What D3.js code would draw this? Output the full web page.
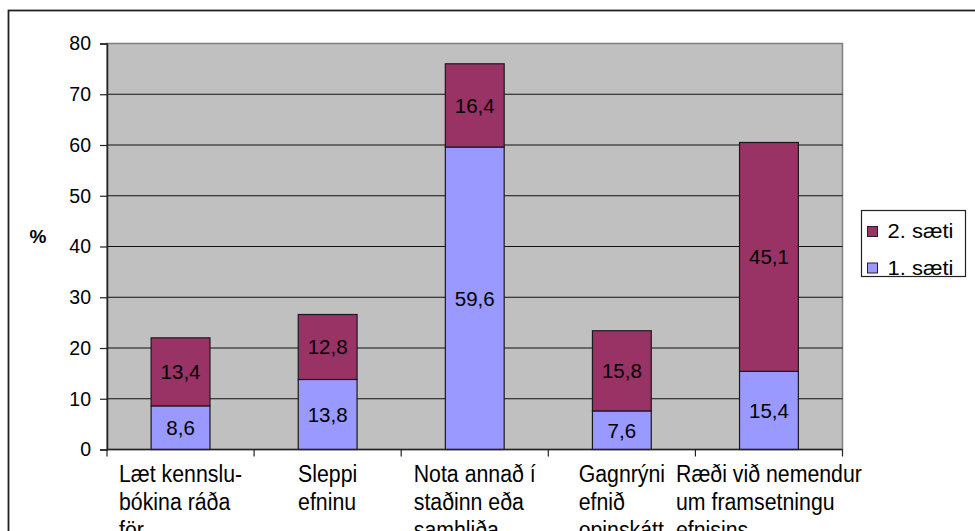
<!DOCTYPE html>
<html>
<head>
<meta charset="utf-8">
<script src="https://cdn.jsdelivr.net/npm/d3@7"></script>
<style>
  body { margin: 0; background: #fff; }
  svg { display: block; font-family: "Liberation Sans", Arial, sans-serif; }
</style>
</head>
<body>
<div id="chart"></div>
<script>
// categories (each wrapped into lines as in the original)
const categories = [
  ["Læt kennslu-", "bókina ráða", "för"],
  ["Sleppi", "efninu"],
  ["Nota annað í", "staðinn eða", "samhliða"],
  ["Gagnrýni", "efnið", "opinskátt"],
  ["Ræði við nemendur", "um framsetningu", "efnisins"]
]
const first = [8.6, 13.8, 59.6, 7.6, 15.4]    // 1. sæti
const second = [13.4, 12.8, 16.4, 15.8, 45.1] // 2. sæti
const seriesNames = ["1. sæti", "2. sæti"]
const yTicks = [0, 10, 20, 30, 40, 50, 60, 70, 80]

const W = 975, H = 531
const plot = { left: 107, right: 842.5, top: 43.5, bottom: 449.5 }
const colors = { "1. sæti": "#9999ff", "2. sæti": "#993366" }

const svg = d3.select("#chart").append("svg")
  .attr("width", W)
  .attr("height", H)

// outer chart border
svg.append("rect")
  .attr("x", 8.5).attr("y", 10.5)
  .attr("width", W + 20).attr("height", H + 20)
  .attr("fill", "#fff")
  .attr("stroke", "#222")
  .attr("stroke-width", 1.8)

const keys = categories.map((c, i) => "c" + i)

const x = d3.scaleBand()
  .domain(keys)
  .range([plot.left, plot.right])
  .padding(0)

const y = d3.scaleLinear()
  .domain([0, 80])
  .range([plot.bottom, plot.top])

// plot area
svg.append("rect")
  .attr("x", plot.left).attr("y", plot.top)
  .attr("width", plot.right - plot.left)
  .attr("height", plot.bottom - plot.top)
  .attr("fill", "#c0c0c0")
  .attr("stroke", "#808080")
  .attr("stroke-width", 1.5)

// gridlines
svg.append("g")
  .selectAll("line")
  .data(yTicks.filter(d => d > 0 && d < 80))
  .enter().append("line")
  .attr("x1", plot.left).attr("x2", plot.right)
  .attr("y1", d => y(d)).attr("y2", d => y(d))
  .attr("stroke", "#111")
  .attr("stroke-width", 1.2)

// stacked data
const rows = keys.map((k, i) => ({ key: k, "1. sæti": first[i], "2. sæti": second[i] }))
const stacked = d3.stack().keys(seriesNames)(rows)

const barW = x.bandwidth() * 0.4
const fmt = v => String(v).replace(".", ",")

const layers = svg.append("g")
  .selectAll("g")
  .data(stacked)
  .enter().append("g")
  .attr("fill", d => colors[d.key])

layers.selectAll("rect")
  .data(d => d)
  .enter().append("rect")
  .attr("x", d => x(d.data.key) + (x.bandwidth() - barW) / 2)
  .attr("y", d => y(d[1]))
  .attr("width", barW)
  .attr("height", d => y(d[0]) - y(d[1]))
  .attr("stroke", "#1a1a1a")
  .attr("stroke-width", 1.2)

layers.selectAll("text")
  .data(d => d.map(p => ({ p: p, v: p.data[d.key] })))
  .enter().append("text")
  .attr("x", d => x(d.p.data.key) + x.bandwidth() / 2)
  .attr("y", d => (y(d.p[0]) + y(d.p[1])) / 2 + 7.3)
  .attr("text-anchor", "middle")
  .attr("fill", "#000")
  .style("font-size", "20.5px")
  .text(d => fmt(d.v))

// y axis
const yAxis = svg.append("g")
  .attr("transform", "translate(" + plot.left + ",0)")
  .call(d3.axisLeft(y).tickValues(yTicks).tickSize(7).tickPadding(9))
yAxis.selectAll("text").style("font-size", "19.5px").attr("fill", "#000")
yAxis.selectAll("line").attr("stroke", "#222").attr("stroke-width", 1.2)
yAxis.select(".domain").attr("stroke", "#222").attr("stroke-width", 1.5)

// x axis
const xAxis = svg.append("g")
  .attr("transform", "translate(0," + plot.bottom + ")")
xAxis.append("line")
  .attr("x1", plot.left).attr("x2", plot.right)
  .attr("stroke", "#222").attr("stroke-width", 1.5)
xAxis.selectAll(".tk")
  .data(keys.concat(["end"]))
  .enter().append("line")
  .attr("class", "tk")
  .attr("x1", d => d === "end" ? plot.right : x(d))
  .attr("x2", d => d === "end" ? plot.right : x(d))
  .attr("y1", 0).attr("y2", 7)
  .attr("stroke", "#222").attr("stroke-width", 1.2)

// category labels: left aligned lines, block centred on band,
// glyphs a bit taller than wide as in the original
const catScale = 1.12, lineGap = 28.5
const catG = svg.append("g")
  .selectAll("g")
  .data(categories)
  .enter().append("g")
catG.each(function (lines, i) {
  const g = d3.select(this)
  const t = g.append("text")
    .style("font-size", "21.3px")
    .attr("fill", "#000")
  lines.forEach((ln, j) => {
    t.append("tspan").attr("x", 0).attr("y", j * lineGap / catScale).text(ln)
  })
  const w = t.node().getBBox().width
  const x0 = x(keys[i]) + x.bandwidth() / 2 - w / 2
  g.attr("transform", "translate(" + x0 + "," + (plot.bottom + 32) + ") scale(1," + catScale + ")")
})

// y title
svg.append("text")
  .attr("x", 38).attr("y", 243)
  .attr("text-anchor", "middle")
  .style("font-size", "19px")
  .style("font-weight", "bold")
  .text("%")

// legend
const legend = svg.append("g").attr("transform", "translate(861.5,210.5)")
legend.append("rect")
  .attr("width", 104).attr("height", 66)
  .attr("fill", "#fff").attr("stroke", "#222").attr("stroke-width", 1.2)
const legendItems = seriesNames.slice().reverse()
const li = legend.selectAll(".li")
  .data(legendItems)
  .enter().append("g")
  .attr("transform", (d, i) => "translate(6," + (21 + i * 36.5) + ")")
li.append("rect")
  .attr("x", 0).attr("y", -5)
  .attr("width", 10).attr("height", 10)
  .attr("fill", d => colors[d])
  .attr("stroke", "#222").attr("stroke-width", 1)
li.append("text")
  .attr("transform", "translate(20,6.5) scale(1,0.9)")
  .style("font-size", "22px")
  .text(d => d)
</script>
</body>
</html>
